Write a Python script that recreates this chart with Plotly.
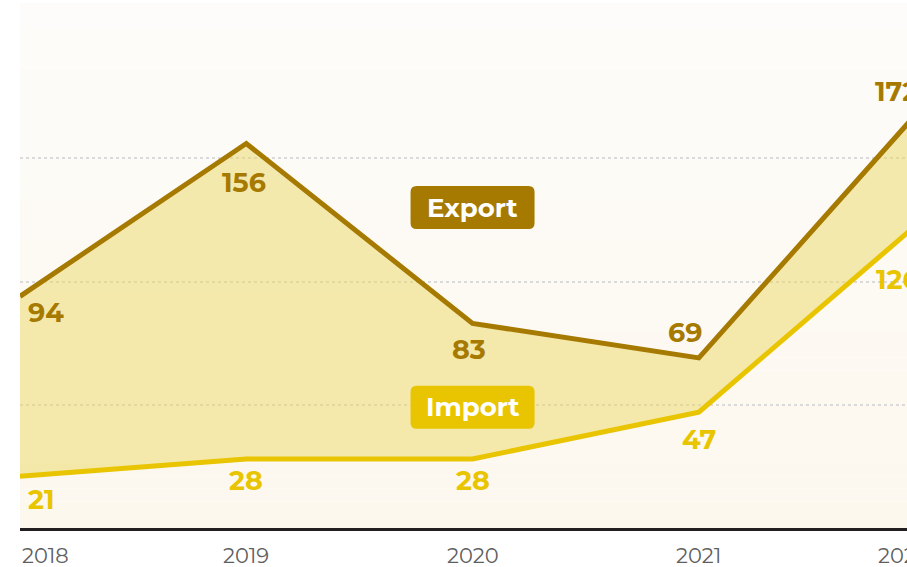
import plotly.graph_objects as go

# ---- data ----
years = [2018, 2019, 2020, 2021, 2022]
export_vals = [94, 156, 83, 69, 172]
import_vals = [21, 28, 28, 47, 126]
tick_labels = ["2018", "2019", "2020", "2021", "2022"]
grid_vals = [50, 100, 150]
series_names = ["Export", "Import"]

# ---- styles ----
EXPORT_C = "#A67A00"
IMPORT_C = "#E8C500"
FILL_C = "rgba(236,216,100,0.5)"
FONT = "Montserrat, 'Open Sans', sans-serif"

# label pixel offsets relative to each point (style only)
export_shift = [(26, -16), (-2, -39), (-4, -26), (-14, 25), (-29, 13)]
import_shift = [(21, -23), (0, -22), (0, -22), (0, -27), (-27, -62)]
tick_shift = [0, 0, 0, 0, -22]

X_RANGE = [2018, 2021.92]
Y_RANGE = [0, 213]


def xpos(x):
    """Reference an x value: data coords when inside the axis range, otherwise
    the equivalent paper fraction (so labels at the clipped edge still draw)."""
    if X_RANGE[0] <= x <= X_RANGE[1]:
        return dict(x=x, xref="x")
    return dict(x=(x - X_RANGE[0]) / (X_RANGE[1] - X_RANGE[0]), xref="paper")


fig = go.Figure()

fig.add_trace(go.Scatter(
    x=years, y=import_vals, mode="lines", name=series_names[1],
    line=dict(color=IMPORT_C, width=5), hoverinfo="skip",
))
fig.add_trace(go.Scatter(
    x=years, y=export_vals, mode="lines", name=series_names[0],
    line=dict(color=EXPORT_C, width=5), fill="tonexty", fillcolor=FILL_C,
    hoverinfo="skip",
))

annotations = []
for vals, shifts, col in ((export_vals, export_shift, EXPORT_C),
                          (import_vals, import_shift, IMPORT_C)):
    for x, v, (dx, dy) in zip(years, vals, shifts):
        annotations.append(dict(
            **xpos(x), y=v, yref="y",
            text=f"<b>{v}</b>", showarrow=False, xshift=dx, yshift=dy,
            xanchor="center", yanchor="middle",
            font=dict(family=FONT, size=27, color=col),
        ))

# x tick labels
for i, (x, lab, dx) in enumerate(zip(years, tick_labels, tick_shift)):
    annotations.append(dict(
        **xpos(x), y=0, yref="paper",
        text=lab, showarrow=False, yshift=-27, xshift=dx,
        xanchor="left" if i == 0 else "center", yanchor="middle",
        font=dict(family=FONT, size=21, color="#5f5f5f"),
    ))

# legend boxes
legend_pos = {"Export": (2020, 130, EXPORT_C), "Import": (2020, 49, IMPORT_C)}
shapes = []

# background gradient (decoration)
N = 40
top = (253, 252, 250)
bot = (253, 248, 238)
for k in range(N):
    t = k / (N - 1)
    c = tuple(round(bot[j] + (top[j] - bot[j]) * t) for j in range(3))
    shapes.append(dict(
        type="rect", xref="paper", yref="paper", x0=0, x1=1,
        y0=k / N, y1=(k + 1) / N, line=dict(width=0),
        fillcolor=f"rgb{c}", layer="below",
    ))

w, h, r = 62, 21.5, 6
path = (f"M {-w + r},{-h} L {w - r},{-h} Q {w},{-h} {w},{-h + r} "
        f"L {w},{h - r} Q {w},{h} {w - r},{h} L {-w + r},{h} "
        f"Q {-w},{h} {-w},{h - r} L {-w},{-h + r} Q {-w},{-h} {-w + r},{-h} Z")
for name in series_names:
    lx, ly, col = legend_pos[name]
    shapes.append(dict(
        type="path", xref="x", yref="y", xsizemode="pixel", ysizemode="pixel",
        xanchor=lx, yanchor=ly, path=path, fillcolor=col, line=dict(width=0),
        layer="above",
    ))
    annotations.append(dict(
        x=lx, y=ly, xref="x", yref="y", text=f"<b>{name}</b>", showarrow=False,
        font=dict(family=FONT, size=26, color="white"),
    ))

fig.update_layout(
    width=907, height=567,
    margin=dict(l=20, r=0, t=3, b=39),
    paper_bgcolor="white", plot_bgcolor="rgba(0,0,0,0)",
    showlegend=False,
    xaxis=dict(range=X_RANGE, showgrid=False, zeroline=False, showticklabels=False,
               showline=True, linecolor="#231F20", linewidth=3, ticks="",
               fixedrange=True),
    yaxis=dict(range=Y_RANGE, tickvals=grid_vals, showticklabels=False,
               showgrid=True, gridcolor="#DADADA", griddash="dot", gridwidth=1.5,
               zeroline=False, showline=False, fixedrange=True),
    annotations=annotations,
    shapes=shapes,
)

post = ("document.body.style.margin='0';document.body.style.padding='0';"
        "document.body.style.overflow='hidden';"
        "document.documentElement.style.overflow='hidden';")
fig.write_html("out.html", config={"displayModeBar": False}, post_script=post)
